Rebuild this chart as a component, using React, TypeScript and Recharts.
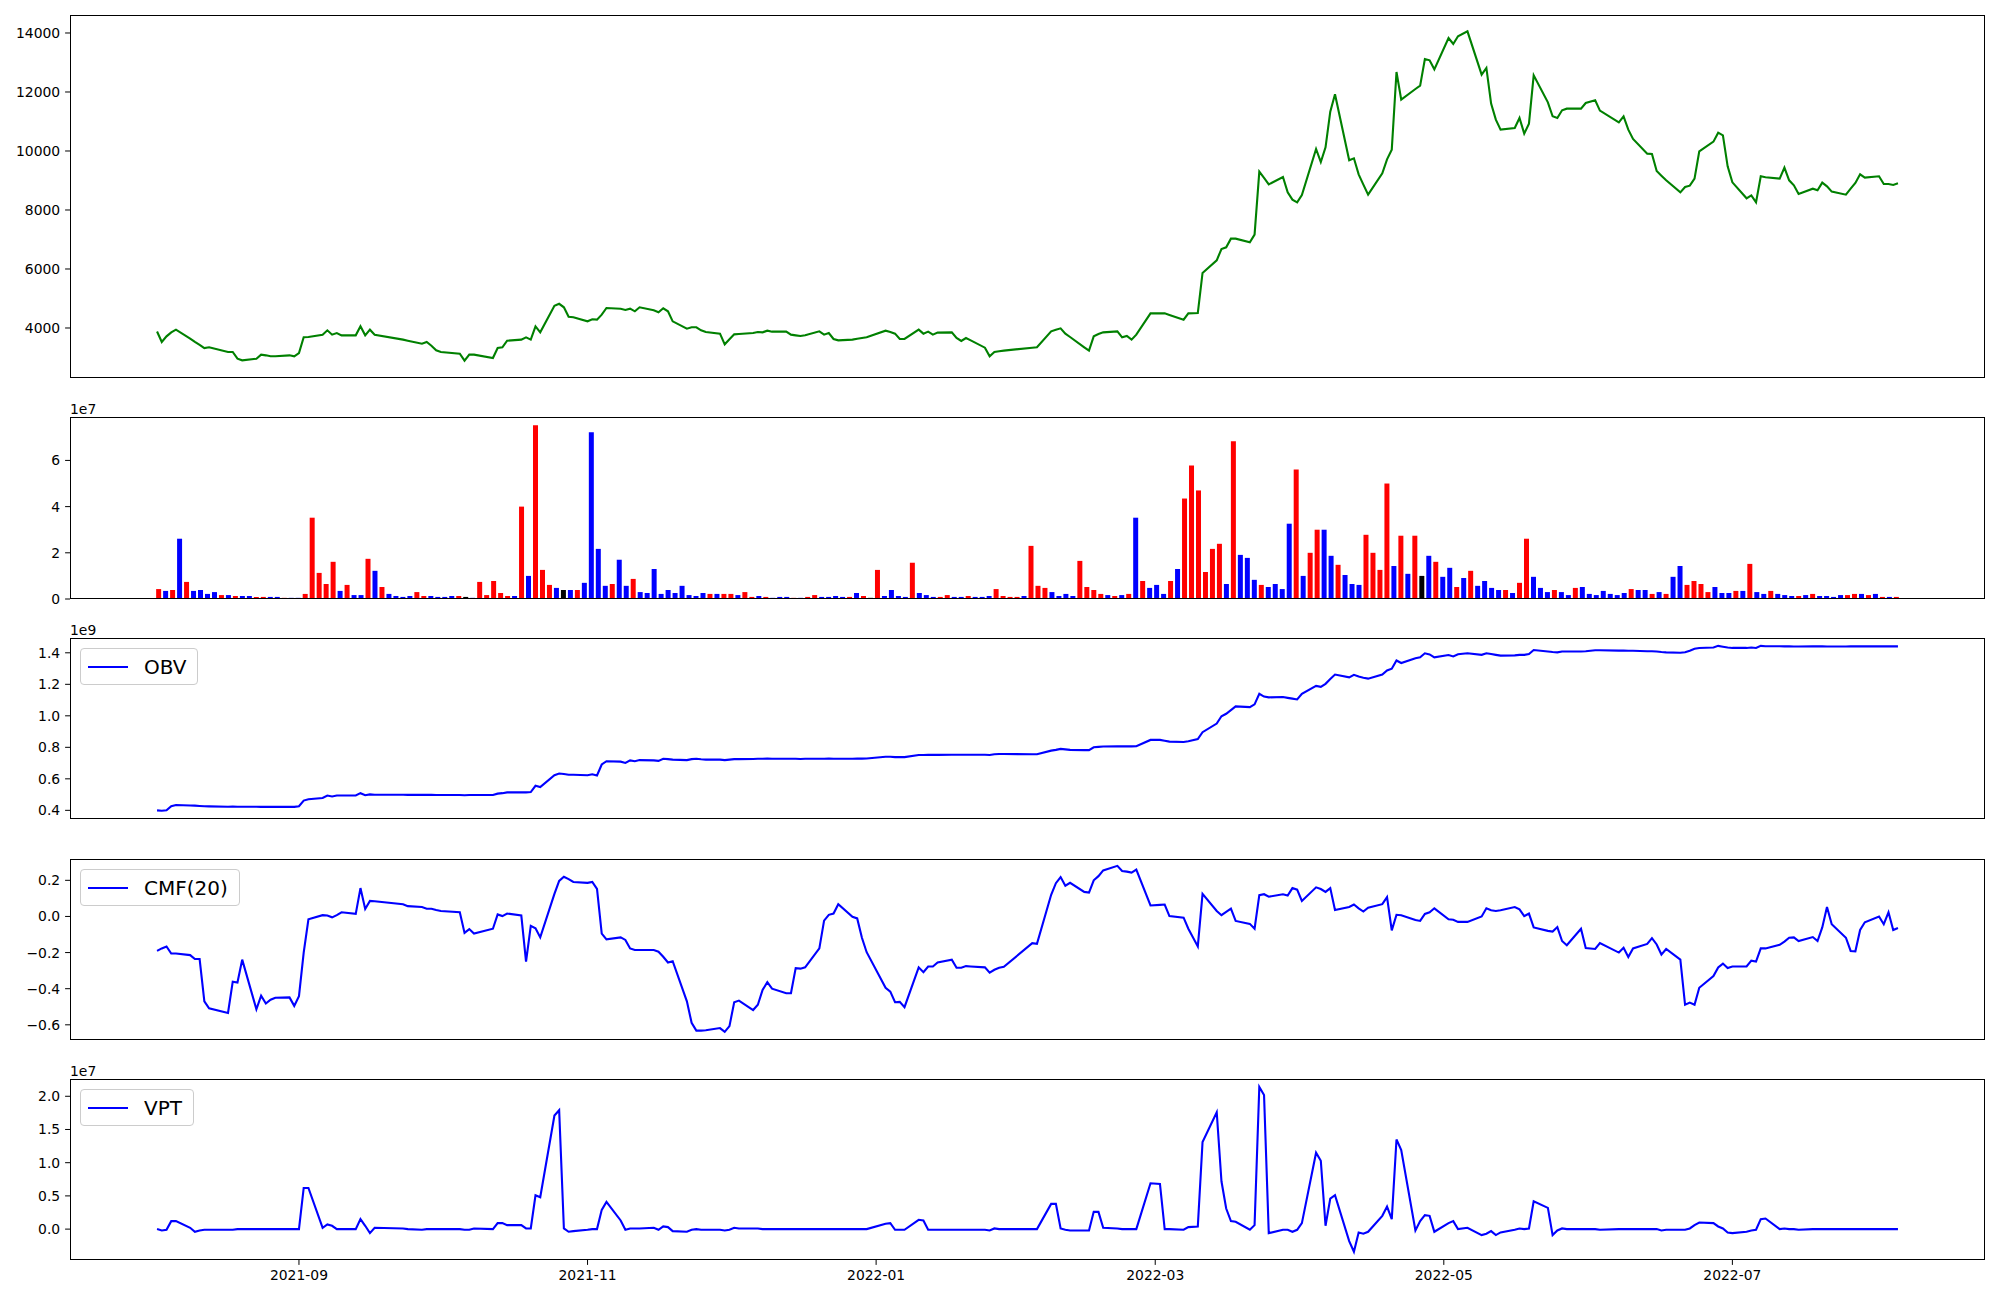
import { LineChart, Line, BarChart, Bar, Cell, XAxis, YAxis } from 'recharts';

const FONT = '"DejaVu Sans", sans-serif';
const DAY = 86400000;

// Korean exchange calendar: weekdays minus market holidays
const START = '2021-08-02';
const END = '2022-08-05';
const HOLIDAYS = [
  '2021-08-16', '2021-09-20', '2021-09-21', '2021-09-22', '2021-10-04', '2021-10-11',
  '2021-12-31', '2022-01-31', '2022-02-01', '2022-02-02', '2022-03-01', '2022-03-09',
  '2022-05-05', '2022-06-01', '2022-06-06',
];

const xTickLabels = ['2021-09', '2021-11', '2022-01', '2022-03', '2022-05', '2022-07'];

// close price
const price = [
  3880, 3525, 3717, 3853, 3943, 3640, 3530, 3430, 3320, 3345,
  3186, 3186, 2960, 2904, 2960, 3096, 3073, 3040, 3040, 3073,
  3040, 3152, 3684, 3695, 3774, 3921, 3774, 3830, 3751, 3751,
  4056, 3751, 3943, 3774, 3605, 3571, 3469, 3525, 3401, 3243,
  3186, 3130, 2893, 3096, 3096, 2983, 3322, 3345, 3571, 3605,
  3684, 3605, 4056, 3853, 4750, 4820, 4701, 4384, 4362, 4226,
  4294, 4283, 4452, 4678, 4655, 4610, 4655, 4565, 4701, 4599,
  4531, 4667, 4565, 4226, 3977, 4023, 4023, 3921, 3864, 3808,
  3446, 3616, 3785, 3796, 3830, 3864, 3853, 3910, 3876, 3876,
  3774, 3751, 3729, 3751, 3887, 3774, 3830, 3627, 3582, 3605,
  3638, 3661, 3684, 3910, 3864, 3808, 3627, 3627, 3943, 3808,
  3876, 3774, 3842, 3853, 3661, 3559, 3661, 3582, 3333, 3040,
  3186, 3209, 3232, 3333, 3345, 3887, 3943, 3989, 3808, 3695,
  3345, 3232, 3717, 3796, 3853, 3887, 3684, 3729, 3605, 3774,
  4497, 4497, 4497, 4441, 4283, 4497, 4508, 5865, 6294, 6678,
  6735, 7028, 7028, 6904, 7164, 9300, 9085, 8870, 9119, 8599,
  8351, 8260, 8509, 10068, 9627, 10125, 11334, 11921, 9684, 9752,
  9209, 8859, 8520, 9243, 9718, 10046, 12678, 11741, 12102, 12215,
  13119, 13074, 12769, 13830, 13628, 13888, 14057, 12588, 12814, 11605,
  11063, 10724, 10780, 11119, 10588, 10927, 12565, 11650, 11176, 11119,
  11379, 11435, 11435, 11628, 11718, 11368, 10972, 11176, 10724, 10407,
  9910, 9899, 9322, 9164, 9006, 8599, 8780, 8825, 9062, 9989,
  10317, 10622, 10531, 9481, 8938, 8396, 8497, 8260, 9142, 9108,
  9062, 9435, 9006, 8836, 8543, 8723, 8667, 8927, 8803, 8622,
  8520, 8723, 8916, 9209, 9096, 9142, 8882, 8882, 8848, 8904,
];

// volume, in units of 1e7
const volume = [
  0.43, 0.35, 0.39, 2.61, 0.74, 0.35, 0.39, 0.22, 0.30, 0.17,
  0.17, 0.13, 0.13, 0.13, 0.09, 0.09, 0.09, 0.09, 0.05, 0.05,
  0.05, 0.22, 3.52, 1.13, 0.65, 1.61, 0.35, 0.61, 0.17, 0.17,
  1.74, 1.22, 0.52, 0.22, 0.13, 0.09, 0.13, 0.30, 0.13, 0.13,
  0.09, 0.09, 0.13, 0.13, 0.09, 0.05, 0.74, 0.17, 0.78, 0.26,
  0.13, 0.13, 4.00, 1.00, 7.52, 1.26, 0.61, 0.48, 0.39, 0.39,
  0.39, 0.70, 7.22, 2.17, 0.57, 0.65, 1.70, 0.57, 0.87, 0.30,
  0.26, 1.30, 0.22, 0.39, 0.26, 0.57, 0.17, 0.13, 0.26, 0.22,
  0.22, 0.22, 0.22, 0.17, 0.30, 0.09, 0.13, 0.09, 0.05, 0.09,
  0.09, 0.05, 0.05, 0.09, 0.17, 0.09, 0.09, 0.13, 0.09, 0.09,
  0.26, 0.13, 0.05, 1.26, 0.13, 0.39, 0.13, 0.09, 1.57, 0.26,
  0.17, 0.09, 0.09, 0.17, 0.09, 0.09, 0.13, 0.09, 0.09, 0.13,
  0.43, 0.13, 0.09, 0.09, 0.13, 2.30, 0.57, 0.48, 0.30, 0.13,
  0.22, 0.13, 1.65, 0.52, 0.39, 0.22, 0.17, 0.13, 0.17, 0.22,
  3.52, 0.78, 0.48, 0.61, 0.22, 0.78, 1.30, 4.35, 5.78, 4.70,
  1.17, 2.17, 2.39, 0.65, 6.83, 1.91, 1.78, 0.83, 0.61, 0.52,
  0.65, 0.43, 3.26, 5.61, 1.00, 2.00, 3.00, 3.00, 1.87, 1.48,
  1.04, 0.65, 0.61, 2.78, 2.00, 1.26, 5.00, 1.43, 2.74, 1.09,
  2.74, 1.00, 1.87, 1.61, 0.96, 1.35, 0.52, 0.91, 1.22, 0.57,
  0.78, 0.48, 0.39, 0.39, 0.26, 0.70, 2.61, 0.96, 0.48, 0.30,
  0.39, 0.30, 0.17, 0.48, 0.52, 0.22, 0.17, 0.35, 0.22, 0.17,
  0.26, 0.43, 0.39, 0.39, 0.22, 0.30, 0.22, 0.96, 1.43, 0.61,
  0.78, 0.65, 0.30, 0.52, 0.26, 0.26, 0.35, 0.35, 1.52, 0.30,
  0.22, 0.35, 0.22, 0.17, 0.13, 0.13, 0.17, 0.22, 0.13, 0.13,
  0.09, 0.17, 0.17, 0.22, 0.22, 0.17, 0.22, 0.09, 0.09, 0.09,
];

// candle direction per day: r = up, b = down, k = flat
const volumeDir = [
  'rbrbrbbbbr', 'brbbrrbbrb', 'brrrrrbrbb', 'rbrbbbbrrb', 'bbbrkbrrrr',
  'rbrbrrrbkb', 'rbbbbrbbrb', 'bbbbbbbbbr', 'brrbrrbrbb', 'brbrrbbbbr',
  'brkrbbbbrb', 'bbrrbbrbbb', 'rrrrbrrrbb', 'bbrrrrbrbr', 'brbbbrbrrr',
  'rrrbrbbbrb', 'bbbrbrrbbr', 'bbbrrrrbrb', 'rkbrbbrbrb', 'bbbrbrrbbb',
  'rbbrbbbbbb', 'brbbrbrbbr', 'rrrbbbrbrb', 'brbbbrbrbb', 'bbrrbrbrbr',
].join('');

// OBV, in units of 1e9
const obv = [
  0.400, 0.397, 0.400, 0.426, 0.434, 0.431, 0.430, 0.428, 0.426, 0.425,
  0.423, 0.424, 0.423, 0.423, 0.423, 0.422, 0.422, 0.422, 0.422, 0.422,
  0.422, 0.426, 0.462, 0.470, 0.478, 0.494, 0.488, 0.494, 0.494, 0.494,
  0.509, 0.496, 0.501, 0.499, 0.499, 0.498, 0.498, 0.499, 0.498, 0.497,
  0.497, 0.497, 0.496, 0.497, 0.497, 0.497, 0.506, 0.509, 0.514, 0.515,
  0.514, 0.516, 0.556, 0.548, 0.623, 0.634, 0.631, 0.626, 0.626, 0.623,
  0.629, 0.621, 0.691, 0.712, 0.709, 0.701, 0.717, 0.712, 0.719, 0.717,
  0.714, 0.727, 0.725, 0.722, 0.719, 0.725, 0.727, 0.724, 0.722, 0.722,
  0.719, 0.722, 0.725, 0.725, 0.726, 0.727, 0.727, 0.728, 0.727, 0.727,
  0.727, 0.727, 0.726, 0.727, 0.727, 0.727, 0.728, 0.727, 0.727, 0.727,
  0.728, 0.728, 0.729, 0.740, 0.740, 0.738, 0.738, 0.738, 0.751, 0.751,
  0.752, 0.752, 0.752, 0.753, 0.753, 0.753, 0.753, 0.753, 0.753, 0.751,
  0.756, 0.758, 0.758, 0.756, 0.756, 0.779, 0.784, 0.790, 0.787, 0.784,
  0.782, 0.782, 0.800, 0.803, 0.805, 0.806, 0.806, 0.806, 0.806, 0.807,
  0.847, 0.847, 0.842, 0.836, 0.834, 0.839, 0.852, 0.896, 0.951, 0.997,
  1.013, 1.036, 1.060, 1.055, 1.073, 1.140, 1.122, 1.117, 1.119, 1.114,
  1.109, 1.104, 1.140, 1.190, 1.184, 1.203, 1.234, 1.262, 1.244, 1.260,
  1.249, 1.242, 1.236, 1.262, 1.288, 1.299, 1.351, 1.335, 1.366, 1.371,
  1.397, 1.390, 1.371, 1.386, 1.377, 1.391, 1.397, 1.387, 1.397, 1.392,
  1.387, 1.382, 1.384, 1.387, 1.387, 1.392, 1.418, 1.408, 1.405, 1.403,
  1.408, 1.408, 1.408, 1.410, 1.416, 1.416, 1.414, 1.414, 1.413, 1.413,
  1.410, 1.410, 1.408, 1.405, 1.403, 1.400, 1.403, 1.413, 1.426, 1.431,
  1.434, 1.444, 1.439, 1.434, 1.431, 1.431, 1.434, 1.431, 1.444, 1.442,
  1.442, 1.441, 1.441, 1.440, 1.440, 1.441, 1.441, 1.441, 1.440, 1.440,
  1.440, 1.441, 1.441, 1.442, 1.441, 1.442, 1.441, 1.441, 1.441, 1.441,
];

// Chaikin money flow, 20 days
const cmf = [
  -0.191, -0.177, -0.166, -0.205, -0.205, -0.214, -0.236, -0.236, -0.470, -0.509,
  -0.534, -0.361, -0.366, -0.239, -0.514, -0.439, -0.482, -0.461, -0.450, -0.448,
  -0.495, -0.441, -0.200, -0.016, 0.007, 0.005, -0.005, 0.007, 0.023, 0.014,
  0.157, 0.041, 0.086, 0.084, 0.068, 0.057, 0.052, 0.043, 0.043, 0.036,
  0.030, 0.023, -0.091, -0.070, -0.095, -0.068, 0.011, 0.002, 0.016, 0.005,
  -0.250, -0.052, -0.066, -0.116, 0.125, 0.197, 0.220, 0.207, 0.191, 0.186,
  0.191, 0.152, -0.095, -0.127, -0.116, -0.130, -0.177, -0.186, -0.186, -0.186,
  -0.195, -0.223, -0.255, -0.248, -0.470, -0.589, -0.632, -0.632, -0.630, -0.618,
  -0.639, -0.607, -0.475, -0.466, -0.518, -0.489, -0.407, -0.364, -0.400, -0.425,
  -0.425, -0.286, -0.289, -0.282, -0.177, -0.023, 0.009, 0.016, 0.068, -0.002,
  -0.011, -0.118, -0.198, -0.395, -0.416, -0.475, -0.473, -0.502, -0.282, -0.309,
  -0.277, -0.277, -0.255, -0.239, -0.284, -0.284, -0.275, -0.277, -0.282, -0.311,
  -0.295, -0.284, -0.279, -0.148, -0.152, 0.120, 0.184, 0.218, 0.170, 0.186,
  0.136, 0.132, 0.200, 0.223, 0.255, 0.280, 0.252, 0.248, 0.243, 0.259,
  0.061, 0.064, 0.066, 0.002, -0.007, -0.068, -0.166, 0.125, 0.030, 0.007,
  0.025, 0.043, -0.025, -0.041, -0.068, 0.118, 0.123, 0.109, 0.123, 0.116,
  0.157, 0.148, 0.086, 0.161, 0.152, 0.136, 0.157, 0.036, 0.052, 0.066,
  0.045, 0.027, 0.048, 0.068, 0.107, -0.077, 0.009, 0.007, -0.020, -0.025,
  0.014, 0.023, 0.045, -0.016, -0.018, -0.030, -0.030, 0.000, 0.045, 0.034,
  0.030, 0.034, 0.052, 0.039, 0.002, 0.016, -0.061, -0.080, -0.084, -0.059,
  -0.136, -0.159, -0.068, -0.175, -0.180, -0.148, -0.200, -0.173, -0.225, -0.177,
  -0.152, -0.120, -0.155, -0.211, -0.180, -0.239, -0.489, -0.477, -0.489, -0.395,
  -0.330, -0.282, -0.261, -0.286, -0.277, -0.277, -0.245, -0.250, -0.177, -0.177,
  -0.157, -0.139, -0.118, -0.116, -0.136, -0.114, -0.136, -0.061, 0.052, -0.043,
  -0.118, -0.191, -0.193, -0.075, -0.032, 0.000, -0.043, 0.023, -0.075, -0.064,
];

// volume price trend, in units of 1e7
const vpt = [
  0.00, -0.02, -0.01, 0.12, 0.12, 0.02, -0.04, -0.02, -0.01, -0.01,
  -0.01, -0.01, 0.00, 0.00, 0.00, 0.00, 0.00, 0.00, 0.00, 0.00,
  0.00, 0.00, 0.62, 0.62, 0.02, 0.07, 0.05, 0.00, 0.00, 0.00,
  0.15, 0.05, -0.06, 0.02, 0.01, 0.00, -0.01, 0.00, 0.00, 0.00,
  0.00, 0.00, -0.01, -0.01, 0.01, 0.00, 0.09, 0.09, 0.06, 0.06,
  0.01, 0.01, 0.51, 0.48, 1.71, 1.79, 0.01, -0.04, -0.03, -0.01,
  0.00, 0.00, 0.29, 0.41, 0.13, -0.01, 0.01, 0.01, 0.01, 0.02,
  -0.01, 0.04, 0.03, -0.03, -0.04, -0.01, 0.00, -0.01, -0.01, -0.01,
  -0.02, -0.01, 0.02, 0.01, 0.01, 0.01, 0.00, 0.00, 0.00, 0.00,
  0.00, 0.00, 0.00, 0.00, 0.00, 0.00, 0.00, 0.00, 0.00, 0.00,
  0.00, 0.00, 0.00, 0.08, 0.09, -0.01, -0.01, -0.01, 0.14, 0.13,
  -0.01, -0.01, -0.01, -0.01, -0.01, -0.01, -0.01, -0.01, -0.01, -0.02,
  0.01, 0.00, 0.00, 0.00, 0.00, 0.38, 0.38, 0.01, -0.01, -0.02,
  -0.02, -0.02, 0.26, 0.26, 0.02, 0.01, 0.00, 0.00, 0.00, 0.00,
  0.69, 0.68, 0.00, 0.00, -0.01, 0.03, 0.04, 1.31, 1.76, 0.72,
  0.31, 0.12, 0.11, -0.01, 0.06, 2.14, 2.02, -0.06, -0.01, -0.01,
  -0.04, -0.01, 0.09, 1.15, 1.03, 0.05, 0.46, 0.51, -0.18, -0.34,
  -0.05, -0.07, -0.04, 0.20, 0.34, 0.15, 1.35, 1.19, -0.02, 0.12,
  0.21, 0.20, -0.04, 0.09, 0.12, 0.00, 0.02, -0.09, -0.07, -0.03,
  -0.09, -0.05, -0.01, 0.01, 0.00, 0.01, 0.42, 0.32, -0.09, -0.02,
  0.01, 0.00, 0.00, 0.00, 0.00, -0.01, 0.00, 0.00, 0.00, 0.00,
  0.00, 0.00, 0.00, -0.02, -0.01, -0.01, -0.01, 0.01, 0.06, 0.10,
  0.09, 0.04, 0.01, -0.05, -0.06, -0.04, -0.02, -0.01, 0.15, 0.16,
  0.00, 0.01, 0.00, 0.00, -0.01, 0.00, 0.00, 0.00, 0.00, 0.00,
  0.00, 0.00, 0.00, 0.00, 0.00, 0.00, 0.00, 0.00, 0.00, 0.00,
];

function tradingDays(start: string, end: string, holidays: string[]) {
  const off = new Set(holidays);
  const out: number[] = [];
  for (let t = Date.parse(start); t <= Date.parse(end); t += DAY) {
    const d = new Date(t);
    const wd = d.getUTCDay();
    if (wd === 0 || wd === 6) continue;
    if (off.has(d.toISOString().slice(0, 10))) continue;
    out.push(t);
  }
  return out;
}

const dates = tradingDays(START, END, HOLIDAYS);
const rows = dates.map((t, i) => ({ t, price: price[i], obv: obv[i], cmf: cmf[i], vpt: vpt[i] }));
const volRows = volume.map((v, i) => ({ i, v, dir: volumeDir[i] }));
const DIR_COLOR: Record<string, string> = { r: '#ff0000', b: '#0000ff', k: '#000000' };

const pad = 0.05 * (dates[dates.length - 1] - dates[0]);
const timeDomain = [dates[0] - pad, dates[dates.length - 1] + pad];
const monthTicks = xTickLabels.map((s) => Date.parse(s + '-01'));

// panel geometry (page pixels)
const LEFT = 70;
const RIGHT = 1985;
const PANELS = [
  { top: 15, bottom: 378 },
  { top: 417, bottom: 599 },
  { top: 638, bottom: 819 },
  { top: 859, bottom: 1040 },
  { top: 1079, bottom: 1260 },
];

const TICK = 4.9;
const LW = 2.1;
const tickStyle = { fontSize: 13.9, fill: '#000', fontFamily: FONT };
const minus = (v: number, d: number) => (v < -1e-9 ? '\u2212' + Math.abs(v).toFixed(d) : Math.abs(v).toFixed(d));

function yAxis(domain: number[], ticks: number[], fmt: (v: number) => string) {
  return (
    <YAxis
      type="number"
      domain={domain}
      ticks={ticks}
      allowDataOverflow
      width={60}
      axisLine={false}
      tickLine={{ stroke: '#000', strokeWidth: 1 }}
      tickSize={TICK}
      tickMargin={TICK}
      tick={tickStyle}
      tickFormatter={fmt}
      interval={0}
    />
  );
}

function Frame({ top, bottom }: { top: number; bottom: number }) {
  return (
    <div
      style={{
        position: 'absolute', left: LEFT, top, width: RIGHT - LEFT, height: bottom - top,
        border: '1px solid #000', boxSizing: 'border-box', pointerEvents: 'none',
      }}
    />
  );
}

function LegendBox({ top, width, label }: { top: number; width: number; label: string }) {
  return (
    <div
      style={{
        position: 'absolute', left: 80, top, width, height: 37, boxSizing: 'border-box',
        border: '1px solid #cccccc', borderRadius: 4, background: 'rgba(255,255,255,0.8)',
        display: 'flex', alignItems: 'center', paddingLeft: 7,
      }}
    >
      <svg width={40} height={4} style={{ display: 'block' }}>
        <line x1={0} y1={2} x2={40} y2={2} stroke="#0000ff" strokeWidth={LW} />
      </svg>
      <span style={{ marginLeft: 16, fontFamily: FONT, fontSize: 20, lineHeight: '20px', color: '#000' }}>{label}</span>
    </div>
  );
}

function OffsetLabel({ top, text }: { top: number; text: string }) {
  return (
    <div style={{ position: 'absolute', left: LEFT, top, fontFamily: FONT, fontSize: 13.9, lineHeight: '14px', color: '#000' }}>
      {text}
    </div>
  );
}

function LinePanel({ idx, dataKey, color, domain, ticks, fmt, showX }: {
  idx: number; dataKey: string; color: string; domain: number[]; ticks: number[];
  fmt: (v: number) => string; showX?: boolean;
}) {
  const p = PANELS[idx];
  const extra = 40;
  const h = p.bottom - p.top + 10 + extra;
  return (
    <div style={{ position: 'absolute', left: 0, top: p.top - 10 }}>
      <LineChart
        width={2000}
        height={h}
        data={rows}
        margin={{ top: 10, right: 2000 - RIGHT, left: LEFT - 60, bottom: showX ? extra - 32 : extra }}
      >
        <XAxis
          type="number"
          dataKey="t"
          domain={timeDomain}
          allowDataOverflow
          hide={!showX}
          height={32}
          ticks={monthTicks}
          interval={0}
          axisLine={false}
          tickLine={{ stroke: '#000', strokeWidth: 1 }}
          tickSize={TICK}
          tickMargin={TICK}
          tick={tickStyle}
          tickFormatter={(v: number) => xTickLabels[monthTicks.indexOf(v)] ?? ''}
        />
        {yAxis(domain, ticks, fmt)}
        <Line
          type="linear"
          dataKey={dataKey}
          stroke={color}
          strokeWidth={LW}
          dot={false}
          isAnimationActive={false}
        />
      </LineChart>
    </div>
  );
}

function VolumePanel() {
  const p = PANELS[1];
  const extra = 40;
  const h = p.bottom - p.top + 10 + extra;
  return (
    <div style={{ position: 'absolute', left: 0, top: p.top - 10 }}>
      <BarChart
        width={2000}
        height={h}
        data={volRows}
        margin={{ top: 10, right: 2000 - RIGHT, left: LEFT - 60, bottom: extra }}
      >
        <XAxis type="number" dataKey="i" domain={[-12.7, 261.7]} allowDataOverflow hide />
        {yAxis([0, 7.88], [0, 2, 4, 6], (v) => String(v))}
        <Bar dataKey="v" barSize={5} isAnimationActive={false}>
          {volRows.map((r) => (
            <Cell key={r.i} fill={DIR_COLOR[r.dir]} />
          ))}
        </Bar>
      </BarChart>
    </div>
  );
}

export default function App() {
  return (
    <div style={{ position: 'absolute', left: 0, top: 0, width: 2000, height: 1300, background: '#fff', overflow: 'hidden' }}>
      <LinePanel
        idx={0}
        dataKey="price"
        color="#008000"
        domain={[2305, 14610]}
        ticks={[4000, 6000, 8000, 10000, 12000, 14000]}
        fmt={(v) => String(v)}
      />
      <VolumePanel />
      <LinePanel
        idx={2}
        dataKey="obv"
        color="#0000ff"
        domain={[0.345, 1.494]}
        ticks={[0.4, 0.6, 0.8, 1.0, 1.2, 1.4]}
        fmt={(v) => v.toFixed(1)}
      />
      <LinePanel
        idx={3}
        dataKey="cmf"
        color="#0000ff"
        domain={[-0.684, 0.318]}
        ticks={[-0.6, -0.4, -0.2, 0, 0.2]}
        fmt={(v) => minus(v, 1)}
      />
      <LinePanel
        idx={4}
        dataKey="vpt"
        color="#0000ff"
        domain={[-0.465, 2.26]}
        ticks={[0, 0.5, 1.0, 1.5, 2.0]}
        fmt={(v) => minus(v, 1)}
        showX
      />
      {PANELS.map((p, i) => (
        <Frame key={i} top={p.top} bottom={p.bottom} />
      ))}
      <OffsetLabel top={PANELS[1].top - 15} text="1e7" />
      <OffsetLabel top={PANELS[2].top - 15} text="1e9" />
      <OffsetLabel top={PANELS[4].top - 15} text="1e7" />
      <LegendBox top={PANELS[2].top + 10} width={118} label="OBV" />
      <LegendBox top={PANELS[3].top + 10} width={160} label="CMF(20)" />
      <LegendBox top={PANELS[4].top + 10} width={114} label="VPT" />
    </div>
  );
}
